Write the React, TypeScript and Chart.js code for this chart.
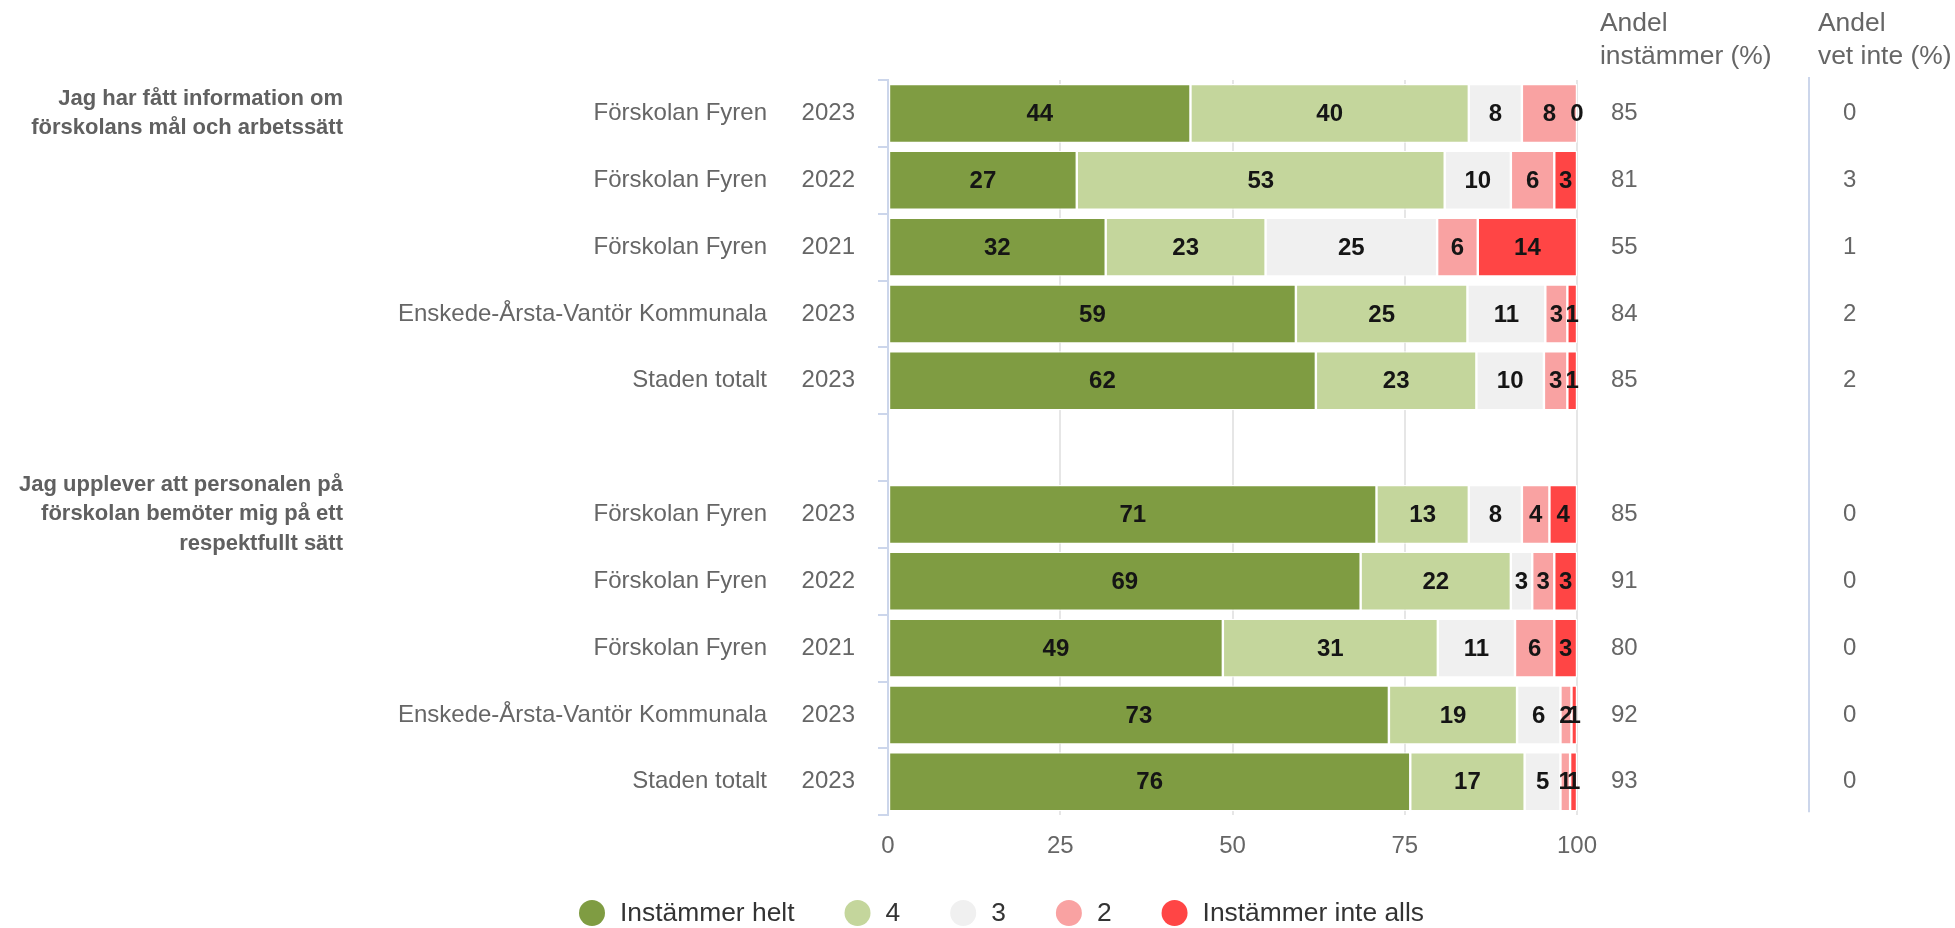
import React, { useEffect, useRef } from 'react';
import { Chart, registerables } from 'chart.js';

Chart.register(...registerables);

// ---------- data ----------
const groupTitles: string[][] = [
  ['Jag har fått information om', 'förskolans mål och arbetssätt'],
  ['Jag upplever att personalen på', 'förskolan bemöter mig på ett', 'respektfullt sätt'],
];
const groupStartRows = [0, 6];

const units = [
  'Förskolan Fyren', 'Förskolan Fyren', 'Förskolan Fyren', 'Enskede-Årsta-Vantör Kommunala', 'Staden totalt',
  '',
  'Förskolan Fyren', 'Förskolan Fyren', 'Förskolan Fyren', 'Enskede-Årsta-Vantör Kommunala', 'Staden totalt',
];
const years = ['2023', '2022', '2021', '2023', '2023', '', '2023', '2022', '2021', '2023', '2023'];

const seriesNames = ['Instämmer helt', '4', '3', '2', 'Instämmer inte alls'];
const seriesColors = ['#7f9c42', '#c4d69c', '#f0f0f0', '#f9a2a2', '#ff4545'];

const instammerHelt = [43.9, 27.4, 31.6, 59.2, 62.1, null, 70.9, 68.6, 48.6, 72.7, 75.8];
const varde4 = [40.4, 53.4, 23.2, 24.9, 23.3, null, 13.4, 21.8, 31.2, 18.6, 16.6];
const varde3 = [7.7, 9.6, 24.9, 11.3, 9.8, null, 7.7, 3.1, 11.2, 6.3, 5.2];
const varde2 = [8.0, 6.3, 5.9, 3.2, 3.4, null, 4.0, 3.2, 5.7, 1.6, 1.4];
const instammerInteAlls = [0, 3.3, 14.4, 1.4, 1.4, null, 4.0, 3.3, 3.3, 0.8, 1.0];

const andelInstammer = [85, 81, 55, 84, 85, null, 85, 91, 80, 92, 93];
const andelVetInte = [0, 3, 1, 2, 2, null, 0, 0, 0, 0, 0];

const col1Header = ['Andel', 'instämmer (%)'];
const col2Header = ['Andel', 'vet inte (%)'];

const xTicks = [0, 25, 50, 75, 100];

// ---------- styling ----------
const FONT = "'Liberation Sans', Arial, Helvetica, sans-serif";
const LABEL_COLOR = '#666666';

const W = 1955;
const H = 928;

const textPlugin = {
  id: 'customTexts',
  afterDatasetsDraw(chart: any) {
    const ctx = chart.ctx as CanvasRenderingContext2D;
    const yScale = chart.scales.y;
    const area = chart.chartArea;
    ctx.save();

    // data labels inside bars
    ctx.font = `bold 24px ${FONT}`;
    ctx.fillStyle = '#151515';
    ctx.textAlign = 'center';
    ctx.textBaseline = 'middle';
    chart.data.datasets.forEach((ds: any, di: number) => {
      const meta = chart.getDatasetMeta(di);
      meta.data.forEach((bar: any, i: number) => {
        const v = ds.data[i];
        if (v === null || v === undefined) return;
        const p = bar.getProps(['x', 'base', 'y'], true);
        ctx.fillText(String(Math.round(v)), (p.x + p.base) / 2, p.y + 1);
      });
    });

    // category labels (unit + year)
    ctx.font = `24px ${FONT}`;
    ctx.fillStyle = LABEL_COLOR;
    ctx.textAlign = 'right';
    units.forEach((u, i) => {
      const y = yScale.getPixelForValue(i);
      if (u) ctx.fillText(u, area.left - 121, y);
      if (years[i]) ctx.fillText(years[i], area.left - 33, y);
    });

    // group titles
    ctx.font = `bold 22px ${FONT}`;
    ctx.fillStyle = '#606060';
    ctx.textAlign = 'right';
    groupTitles.forEach((lines, g) => {
      const cy = yScale.getPixelForValue(groupStartRows[g]);
      const lh = 29.5;
      lines.forEach((line, li) => {
        const y = cy + (li - (lines.length - 1) / 2) * lh;
        ctx.fillText(line, 343, y);
      });
    });

    // right columns
    const col1X = area.right + 23;
    const col2X = area.right + 241;
    ctx.font = `26.4px ${FONT}`;
    ctx.fillStyle = LABEL_COLOR;
    ctx.textAlign = 'left';
    col1Header.forEach((t, k) => ctx.fillText(t, col1X, 24 + k * 33));
    col2Header.forEach((t, k) => ctx.fillText(t, col2X, 24 + k * 33));
    ctx.font = `24px ${FONT}`;
    andelInstammer.forEach((v, i) => {
      if (v === null) return;
      ctx.fillText(String(v), col1X + 11, yScale.getPixelForValue(i));
    });
    andelVetInte.forEach((v, i) => {
      if (v === null) return;
      ctx.fillText(String(v), col2X + 25, yScale.getPixelForValue(i));
    });

    // separator line for second column
    ctx.strokeStyle = '#ccd6eb';
    ctx.lineWidth = 2;
    ctx.beginPath();
    ctx.moveTo(col2X - 9, area.top - 3);
    ctx.lineTo(col2X - 9, area.bottom - 3);
    ctx.stroke();

    // legend
    ctx.font = `26.4px ${FONT}`;
    ctx.textAlign = 'left';
    const ly = 913;
    let cx = 592;
    seriesNames.forEach((name, k) => {
      ctx.fillStyle = seriesColors[k];
      ctx.beginPath();
      ctx.arc(cx, ly, 13, 0, Math.PI * 2);
      ctx.fill();
      ctx.fillStyle = '#333333';
      const tx = cx + 28;
      ctx.fillText(name, tx, ly + 1);
      cx = tx + ctx.measureText(name).width + 63;
    });

    ctx.restore();
  },
};

export default function App() {
  const ref = useRef<HTMLCanvasElement | null>(null);

  useEffect(() => {
    document.body.style.margin = '0';
    const canvas = ref.current;
    if (!canvas) return;
    const seriesData = [instammerHelt, varde4, varde3, varde2, instammerInteAlls];
    const chart = new Chart(canvas, {
      type: 'bar',
      data: {
        labels: units.map((u, i) => (u ? `${u} ${years[i]}` : '')),
        datasets: seriesNames.map((name, k) => ({
          label: name,
          data: seriesData[k] as any,
          backgroundColor: seriesColors[k],
          borderColor: '#ffffff',
          borderWidth: 1.2,
          borderSkipped: false,
          barPercentage: 1,
          categoryPercentage: 0.88,
        })),
      },
      options: {
        indexAxis: 'y',
        responsive: false,
        animation: false,
        devicePixelRatio: 1,
        layout: { padding: { left: 878, right: 378, top: 80, bottom: 50 } },
        plugins: {
          legend: { display: false },
          tooltip: { enabled: false },
        },
        scales: {
          x: {
            stacked: true,
            min: 0,
            max: 100,
            afterBuildTicks: (scale: any) => {
              scale.ticks = xTicks.map((v) => ({ value: v }));
            },
            grid: { color: '#e6e6e6', lineWidth: 2, drawTicks: false },
            border: { display: false },
            ticks: {
              padding: 17,
              color: LABEL_COLOR,
              font: { family: FONT, size: 24 },
            },
          },
          y: {
            stacked: true,
            grid: {
              offset: true,
              drawOnChartArea: false,
              drawTicks: true,
              tickLength: 10,
              color: '#ccd6eb',
              lineWidth: 2,
            },
            border: { display: true, color: '#ccd6eb', width: 2 },
            ticks: { display: false },
          },
        },
      },
      plugins: [textPlugin],
    });
    return () => chart.destroy();
  }, []);

  return (
    <div style={{ width: W, height: H, position: 'relative', background: '#ffffff' }}>
      <canvas ref={ref} width={W} height={H} style={{ display: 'block' }} />
    </div>
  );
}
